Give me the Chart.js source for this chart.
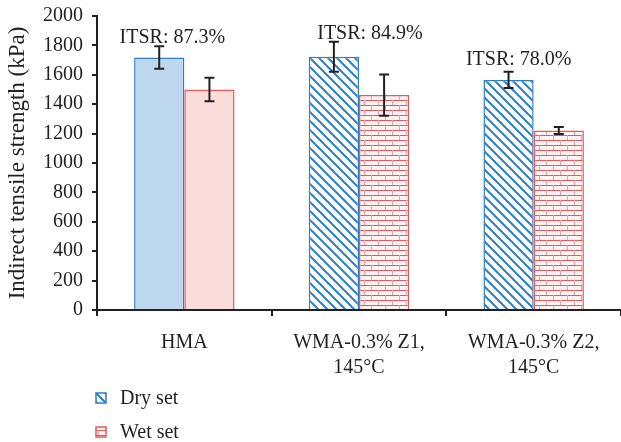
<!DOCTYPE html>
<html>
<head>
<meta charset="utf-8">
<script src="https://cdn.jsdelivr.net/npm/chart.js@4.4.0/dist/chart.umd.min.js"></script>
<style>
  body { margin: 0; background: #fff; }
  #wrap { width: 621px; height: 442px; position: relative; }
</style>
</head>
<body>
<div id="wrap"><canvas id="itsChart"></canvas></div>
<script>
// data
var categories = [["HMA"], ["WMA-0.3% Z1,", "145°C"], ["WMA-0.3% Z2,", "145°C"]];
var drySet = [1718, 1722, 1565];
var dryErr = [77, 102, 55];
var wetSet = [1500, 1462, 1221];
var wetErr = [80, 140, 24];
var itsrLabels = ["ITSR: 87.3%", "ITSR: 84.9%", "ITSR: 78.0%"];
var yTicks = [0, 200, 400, 600, 800, 1000, 1200, 1400, 1600, 1800, 2000];

var blue = '#2f7fc4';
var red = '#e8575b';
var ink = '#231f20';
var serif = "'Liberation Serif', 'DejaVu Serif', serif";

function hatchPattern() {
  var c = document.createElement('canvas');
  c.width = 9; c.height = 9;
  var g = c.getContext('2d');
  g.fillStyle = '#fff';
  g.fillRect(0, 0, 9, 9);
  g.strokeStyle = blue;
  g.lineWidth = 2;
  g.beginPath();
  g.moveTo(-2, -2); g.lineTo(11, 11);
  g.moveTo(-11, -2); g.lineTo(2, 11);
  g.moveTo(7, -2); g.lineTo(20, 11);
  g.stroke();
  return g.createPattern(c, 'repeat');
}

function brickPattern() {
  var c = document.createElement('canvas');
  c.width = 14; c.height = 10;
  var g = c.getContext('2d');
  g.fillStyle = '#fdf3f3';
  g.fillRect(0, 0, 14, 10);
  g.strokeStyle = red;
  g.lineWidth = 1;
  g.beginPath();
  g.moveTo(0, 0.5); g.lineTo(14, 0.5);
  g.moveTo(0, 5.5); g.lineTo(14, 5.5);
  g.stroke();
  g.strokeStyle = '#f0a0a2';
  g.beginPath();
  g.moveTo(0.5, 0); g.lineTo(0.5, 5);
  g.moveTo(7.5, 5); g.lineTo(7.5, 10);
  g.stroke();
  return g.createPattern(c, 'repeat');
}

var dryPat = hatchPattern();
var wetPat = brickPattern();

// error bars + ITSR text + legend
var extras = {
  id: 'extras',
  afterDatasetsDraw: function(chart) {
    var ctx = chart.ctx;
    var y = chart.scales.y;
    var errs = [dryErr, wetErr];
    ctx.save();
    ctx.strokeStyle = ink;
    ctx.lineWidth = 2;
    chart.data.datasets.forEach(function(ds, di) {
      var meta = chart.getDatasetMeta(di);
      meta.data.forEach(function(bar, i) {
        var v = ds.data[i];
        var top = y.getPixelForValue(v + errs[di][i]);
        var bot = y.getPixelForValue(v - errs[di][i]);
        ctx.beginPath();
        ctx.moveTo(bar.x, top); ctx.lineTo(bar.x, bot);
        ctx.moveTo(bar.x - 5, top); ctx.lineTo(bar.x + 5, top);
        ctx.moveTo(bar.x - 5, bot); ctx.lineTo(bar.x + 5, bot);
        ctx.stroke();
      });
    });
    // ITSR labels
    ctx.fillStyle = ink;
    ctx.font = '20px ' + serif;
    ctx.textAlign = 'center';
    ctx.textBaseline = 'alphabetic';
    var dryMeta = chart.getDatasetMeta(0);
    var wetMeta = chart.getDatasetMeta(1);
    var lift = [3, 3, 7];
    var shift = [-12, 11, -15];
    itsrLabels.forEach(function(t, i) {
      var cx = (dryMeta.data[i].x + wetMeta.data[i].x) / 2 + shift[i];
      var ty = y.getPixelForValue(drySet[i] + dryErr[i]) - lift[i];
      ctx.fillText(t, cx, ty);
    });
    // legend
    var pats = [dryPat, wetPat];
    var cols = [blue, red];
    ctx.textAlign = 'left';
    ctx.textBaseline = 'middle';
    ctx.font = '20px ' + serif;
    chart.data.datasets.forEach(function(ds, di) {
      var ly = 398 + di * 34;
      ctx.fillStyle = pats[di];
      ctx.fillRect(96, ly - 5, 10, 10);
      ctx.strokeStyle = cols[di];
      ctx.lineWidth = 1.5;
      ctx.strokeRect(96, ly - 5, 10, 10);
      ctx.fillStyle = ink;
      ctx.fillText(ds.label, 120, ly + 1);
    });
    ctx.restore();
  }
};

new Chart(document.getElementById('itsChart'), {
  type: 'bar',
  data: {
    labels: categories,
    datasets: [
      {
        label: 'Dry set',
        data: drySet,
        backgroundColor: ['#bdd7ee', dryPat, dryPat],
        borderColor: blue,
        borderWidth: 1.5,
        categoryPercentage: 0.575,
        barPercentage: 1.0
      },
      {
        label: 'Wet set',
        data: wetSet,
        backgroundColor: ['#fadcda', wetPat, wetPat],
        borderColor: red,
        borderWidth: 1.5,
        categoryPercentage: 0.575,
        barPercentage: 1.0
      }
    ]
  },
  options: {
    responsive: true,
    maintainAspectRatio: false,
    animation: false,
    layout: { padding: { top: 16, right: 0, bottom: 62, left: 0 } },
    plugins: {
      legend: { display: false },
      tooltip: { enabled: false }
    },
    scales: {
      x: {
        offset: true,
        grid: { display: true, offset: true, drawOnChartArea: false, drawTicks: true, tickLength: 6, color: ink, lineWidth: 2 },
        border: { display: true, color: ink, width: 2 },
        ticks: { color: ink, font: { family: serif, size: 20, lineHeight: 1.25 }, padding: 14, maxRotation: 0 },
        afterFit: function(s) { s.height = 70; }
      },
      y: {
        min: 0,
        max: 2000,
        afterBuildTicks: function(s) { s.ticks = yTicks.map(function(v) { return { value: v }; }); },
        grid: { display: true, drawOnChartArea: false, drawTicks: true, tickLength: 5, color: ink, lineWidth: 2 },
        border: { display: true, color: ink, width: 2 },
        ticks: { color: ink, font: { family: serif, size: 20 }, padding: 9, callback: function(v) { return String(v); } },
        title: { display: true, text: 'Indirect tensile strength (kPa)', color: ink, font: { family: serif, size: 23 }, padding: { top: 4, bottom: 0 } },
        afterFit: function(s) { s.width = 97; s.paddingTop = 0; s.paddingBottom = 0; }
      }
    }
  },
  plugins: [extras]
});
</script>
</body>
</html>
